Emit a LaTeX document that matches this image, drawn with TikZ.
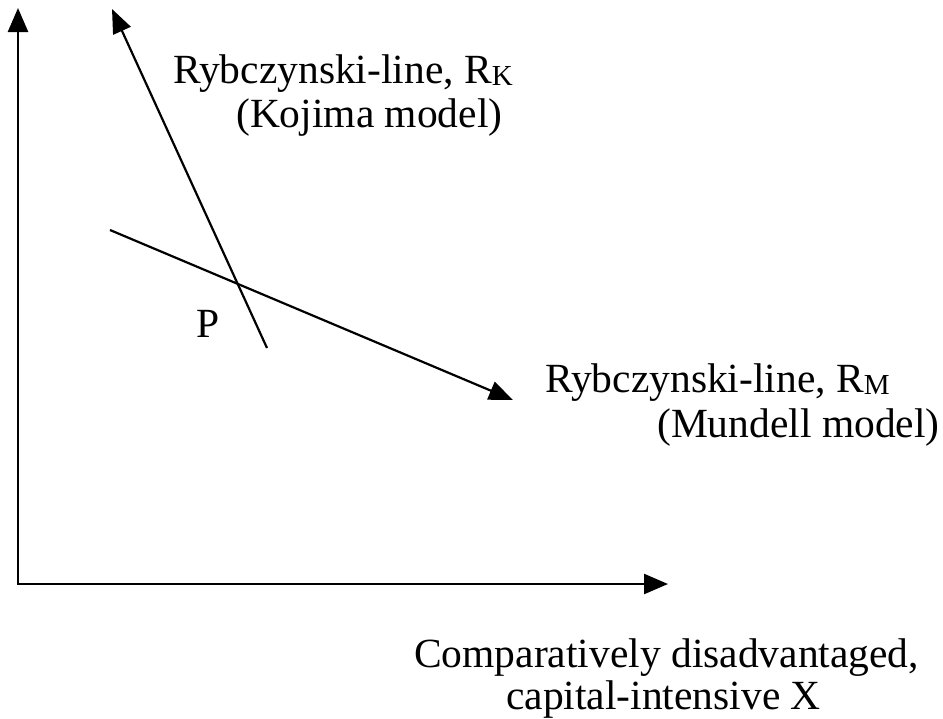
\documentclass[tikz,border=0pt]{standalone}
\usepackage{fontspec}
\setmainfont{Liberation Serif}
\usetikzlibrary{arrows.meta}
\newcommand\lowsub[1]{\raisebox{-2pt}{\fontsize{29}{30}\selectfont #1}}
\begin{document}
\begin{tikzpicture}[x=1pt,y=-1pt,
  lbl/.style={font=\fontsize{41.5}{48}\selectfont, inner sep=0pt, anchor=base west},
  axis/.style={line width=2.5pt, {Triangle[length=24pt,width=20pt]}-{Triangle[length=24pt,width=20pt]}},
  rline/.style={line width=2.2pt},
  rarrow/.style={rline, -{Triangle[length=24pt,width=19pt]}}]
\useasboundingbox (0,0) rectangle (943,718);
\coordinate (O) at (18,584);
\coordinate (Ytip) at (18,8);
\coordinate (Xtip) at (668,584);
\coordinate (Kstart) at (267,348);
\coordinate (Ktip) at (112,9);
\coordinate (Mstart) at (110,230);
\coordinate (Mtip) at (513,400);
\draw[axis] (Ytip) -- (O) -- (Xtip);
\draw[rarrow] (Kstart) -- (Ktip);
\draw[rarrow] (Mstart) -- (Mtip);
\node[lbl] (rk1) at (173,83) {Rybczynski-line, R\lowsub{K}};
\node[lbl] (rk2) at (236,127) {(Kojima model)};
\node[lbl] (rm1) at (545,392) {Rybczynski-line, R\lowsub{M}};
\node[lbl] (rm2) at (657,437) {(Mundell model)};
\node[lbl] (p) at (196,337) {P};
\node[lbl] (xl1) at (414,667) {Comparatively disadvantaged,};
\node[lbl] (xl2) at (506,709) {capital-intensive X};
\end{tikzpicture}
\end{document}
